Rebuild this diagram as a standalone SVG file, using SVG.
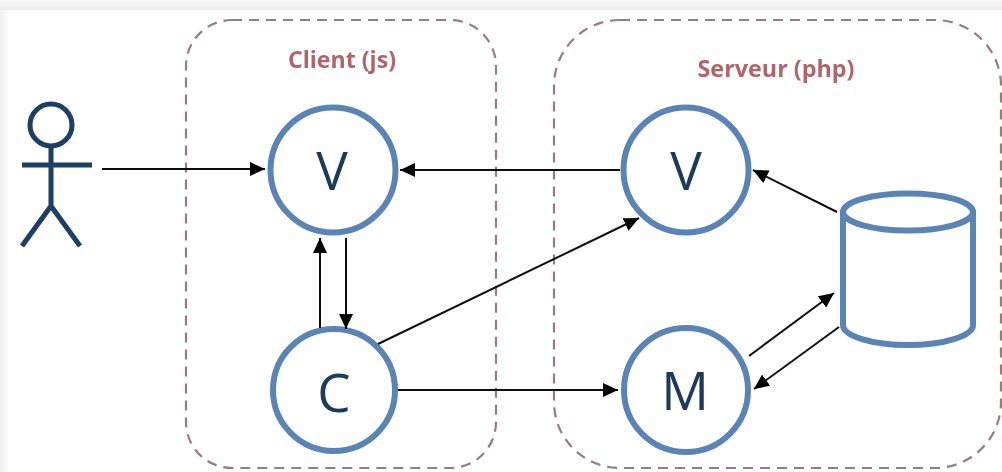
<svg xmlns="http://www.w3.org/2000/svg" width="1002" height="472" viewBox="0 0 1002 472">
<defs>
<linearGradient id="topband" x1="0" y1="0" x2="0" y2="1"><stop offset="0" stop-color="#f8f8f8"/><stop offset="1" stop-color="#ebebeb"/></linearGradient>
<linearGradient id="leftband" x1="0" y1="0" x2="1" y2="0"><stop offset="0" stop-color="#efefef"/><stop offset="1" stop-color="#fafafa"/></linearGradient>
<marker id="arrow" markerUnits="userSpaceOnUse" markerWidth="16" markerHeight="14" refX="15" refY="7" orient="auto"><path d="M0,0 L15,7 L0,14 Z" fill="#000"/></marker>
<filter id="soft" filterUnits="userSpaceOnUse" x="0" y="0" width="1002" height="472"><feGaussianBlur stdDeviation="0.45"/></filter>
</defs>
<style>
.group{fill:none;stroke:#9a7a82;stroke-width:2.2;stroke-dasharray:10 7}
.title{font-family:"Open Sans","Liberation Sans",sans-serif;font-weight:700;font-size:23px;fill:#b0656a;text-anchor:middle}
.shape{fill:#fff;stroke:#5a84b4;stroke-width:6}
.letter{font-family:"Open Sans","Liberation Sans",sans-serif;font-size:53px;fill:#1f3a56;text-anchor:middle}
.actor{fill:none;stroke:#1d3f63;stroke-width:5}
.conn{fill:none;stroke:#111;stroke-width:2;marker-end:url(#arrow)}
</style>
<rect width="1002" height="472" fill="#fff"/>
<rect x="0" y="0" width="1002" height="10" fill="url(#topband)"/>
<rect x="0" y="10" width="8" height="462" fill="url(#leftband)"/>
<g filter="url(#soft)">
<g id="client"><rect class="group" x="186" y="20" width="310" height="448" rx="46"/><text class="title" x="342" y="68" textLength="108" lengthAdjust="spacingAndGlyphs">Client (js)</text></g>
<g id="serveur"><rect class="group" x="554" y="20" width="447" height="448" rx="66"/><text class="title" x="776" y="77" textLength="157" lengthAdjust="spacingAndGlyphs">Serveur (php)</text></g>
<g id="actor"><circle class="actor" cx="51" cy="125" r="21"/><path class="actor" d="M51,146V206M22,165H92M51,206L22,246M51,206L80,246"/></g>
<g id="view-client"><circle class="shape" cx="333" cy="170" r="62.5"/><text class="letter" x="332" y="190">V</text></g>
<g id="controller"><circle class="shape" cx="334" cy="390" r="61"/><text class="letter" x="334" y="412">C</text></g>
<g id="view-server"><circle class="shape" cx="686" cy="170" r="62.5"/><text class="letter" x="686" y="190">V</text></g>
<g id="model"><circle class="shape" cx="686" cy="390" r="62"/><text class="letter" x="685" y="410" font-size="50">M</text></g>
<g id="database"><path class="shape" d="M843,212V325C843,336 872,345 908,345C944,345 973,336 973,325V212"/><ellipse class="shape" cx="908" cy="212" rx="65" ry="18.5"/></g>
<g id="connectors">
<path class="conn" d="M102,169H265"/>
<path class="conn" d="M620,170H400"/>
<path class="conn" d="M320,328V238"/>
<path class="conn" d="M346,238V329"/>
<path class="conn" d="M378,344L639,218"/>
<path class="conn" d="M398,390H618"/>
<path class="conn" d="M837,212L753,170"/>
<path class="conn" d="M749,356L834,293"/>
<path class="conn" d="M839,327L754,389"/>
</g>
</g>
</svg>
